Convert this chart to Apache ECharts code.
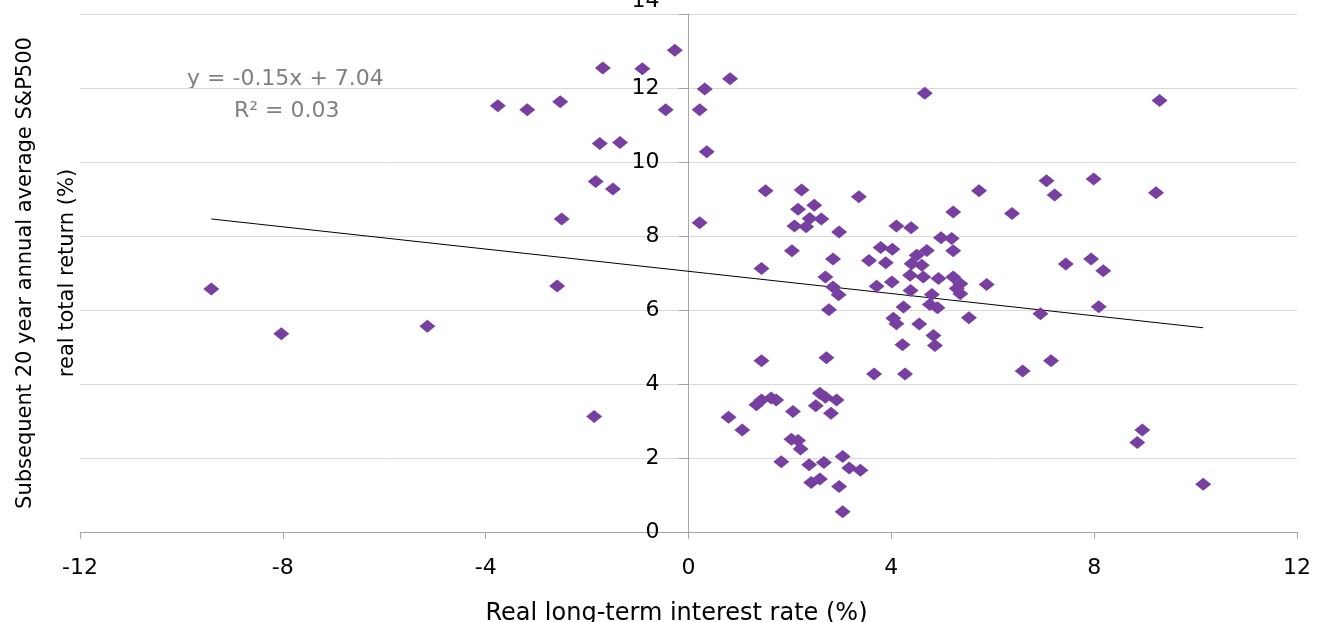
<!DOCTYPE html>
<html>
<head>
<meta charset="utf-8">
<title>Real interest rate vs subsequent S&P500 return</title>
<script src="https://cdn.jsdelivr.net/npm/echarts@6/dist/echarts.min.js"></script>
<style>
  html, body { margin: 0; padding: 0; background: #fff; }
  #main { width: 1320px; height: 622px; }
</style>
</head>
<body>
<div id="main"></div>
<script>
// real long-term interest rate (%), one entry per year
var rateX = [
  -9.41, -8.03, -5.15, -2.59, -1.86, -3.76, -3.18, -2.53, -2.50, -1.83,
  -1.49, -1.75, -1.35, -1.69, -0.91, -0.27, -0.45, 0.22, 0.32, 0.82,
  0.36, 0.22, 4.66, 9.29,
  1.52, 2.23, 3.36, 2.16, 2.48, 2.39, 2.62, 2.09, 2.32, 2.97,
  2.04, 2.85, 1.44, 2.70, 2.85, 2.96, 2.77, 1.44, 2.72, 4.10,
  4.39, 3.56, 3.79, 4.02, 3.89, 3.71, 4.01, 4.50, 4.70, 4.40,
  4.60, 4.37, 4.63, 4.38, 4.24, 4.80, 4.76, 4.91, 4.93, 5.22,
  4.98, 5.19, 5.22, 5.22, 5.36, 5.29, 5.36, 5.53, 5.88, 5.73,
  6.38, 4.04, 4.10, 4.55, 4.83, 4.86, 4.22, 3.66, 4.27, 6.59,
  7.15, 6.94,
  0.79, 1.06, 1.34, 1.44, 1.63, 1.73, 2.06, 2.59, 2.51, 2.70,
  2.92, 2.81, 2.03, 2.16, 2.21, 1.83, 2.38, 2.67, 3.04, 3.17,
  3.39, 2.42, 2.59, 2.97, 3.04,
  7.06, 7.22, 7.99, 9.22, 7.44, 7.94, 8.18, 8.09, 8.95, 8.85,
  10.15
];
// subsequent 20 year annual average S&P500 real total return (%)
var returnY = [
  6.57, 5.36, 5.56, 6.65, 3.12, 11.52, 11.41, 11.63, 8.46, 9.47,
  9.27, 10.50, 10.53, 12.54, 12.52, 13.02, 11.41, 11.41, 11.97, 12.25,
  10.28, 8.36, 11.86, 11.66,
  9.22, 9.24, 9.06, 8.72, 8.83, 8.47, 8.46, 8.27, 8.25, 8.11,
  7.60, 7.38, 7.12, 6.89, 6.62, 6.41, 6.01, 4.63, 4.71, 8.27,
  8.22, 7.34, 7.69, 7.64, 7.28, 6.64, 6.76, 7.48, 7.61, 7.25,
  7.21, 6.94, 6.89, 6.53, 6.08, 6.42, 6.15, 6.06, 6.85, 8.65,
  7.95, 7.93, 7.60, 6.89, 6.71, 6.58, 6.44, 5.79, 6.69, 9.22,
  8.61, 5.78, 5.63, 5.62, 5.31, 5.04, 5.06, 4.27, 4.27, 4.35,
  4.63, 5.90,
  3.10, 2.76, 3.44, 3.57, 3.62, 3.57, 3.26, 3.75, 3.41, 3.64,
  3.57, 3.21, 2.51, 2.47, 2.24, 1.90, 1.82, 1.88, 2.04, 1.73,
  1.67, 1.34, 1.43, 1.23, 0.55,
  9.49, 9.11, 9.54, 9.17, 7.24, 7.38, 7.06, 6.09, 2.76, 2.42,
  1.29
];

// linear trendline end points as drawn in the picture
var trendX = [-9.41, 10.15];
var trendY = [8.46, 5.52];

var fitText = ['y = -0.15x + 7.04', 'R\u00B2 = 0.03'];
var xTitle = 'Real long-term interest rate (%)';
var yTitle = 'Subsequent 20 year annual average S&P500\nreal total return (%)';

var points = rateX.map(function (x, i) { return [x, returnY[i]]; });
var trend = trendX.map(function (x, i) { return [x, trendY[i]]; });

var chart = echarts.init(document.getElementById('main'));

// plot area; the y axis is drawn where x = 0 (middle of the plot)
var gridLeft = 80, gridRight = 23;
var plotWidth = 1320 - gridLeft - gridRight;
var yAxisShift = plotWidth / 2;

var axisGrey = '#a6a6a6';
var option = {
  animation: false,
  textStyle: { fontFamily: 'DejaVu Sans' },
  // keep the plot area fixed, names and labels may sit outside it
  grid: { left: gridLeft, right: gridRight, top: 14, bottom: 90, containLabel: false, outerBoundsMode: 'none' },
  xAxis: {
    type: 'value',
    min: -12,
    max: 12,
    interval: 4,
    splitLine: { show: false },
    axisLine: { lineStyle: { color: axisGrey, width: 1 } },
    axisTick: { show: true, length: 7, lineStyle: { color: axisGrey } },
    axisLabel: { fontSize: 22, color: '#000', margin: 25 },
    name: xTitle,
    nameLocation: 'middle',
    nameGap: 70,
    nameTextStyle: { fontSize: 24, color: '#000', padding: [0, 24, 0, 0] }
  },
  yAxis: {
    type: 'value',
    min: 0,
    max: 14,
    interval: 2,
    offset: -yAxisShift,
    axisLine: { show: true, onZero: false, lineStyle: { color: axisGrey, width: 1 } },
    axisTick: { show: true, length: 10, lineStyle: { color: axisGrey } },
    splitLine: { show: true, lineStyle: { color: '#d9d9d9', width: 1 } },
    axisLabel: {
      fontSize: 22,
      color: '#000',
      margin: 29,
      // top label is pushed up and half cut off, like in the original
      formatter: function (v) { return v === 14 ? '{top|14}' : String(v); },
      rich: { top: { fontSize: 22, color: '#000', padding: [0, 0, 26, 0] } }
    },
    name: yTitle,
    nameLocation: 'middle',
    nameGap: 600,
    nameTextStyle: { fontSize: 21, color: '#000', lineHeight: 42, align: 'center' }
  },
  graphic: [
    {
      type: 'text', left: 187, top: 68,
      style: { text: fitText[0], fontSize: 22, fill: '#808080', fontFamily: 'DejaVu Sans' }
    },
    {
      type: 'text', left: 234, top: 100,
      style: { text: fitText[1], fontSize: 22, fill: '#808080', fontFamily: 'DejaVu Sans' }
    }
  ],
  series: [
    {
      type: 'scatter',
      data: points,
      symbol: 'diamond',
      symbolSize: [16, 13],
      itemStyle: { color: '#7740a0', opacity: 1 },
      z: 3
    },
    {
      type: 'line',
      data: trend,
      showSymbol: false,
      symbol: 'none',
      silent: true,
      lineStyle: { color: '#000', width: 1 },
      z: 2
    }
  ]
};

chart.setOption(option);
</script>
</body>
</html>
